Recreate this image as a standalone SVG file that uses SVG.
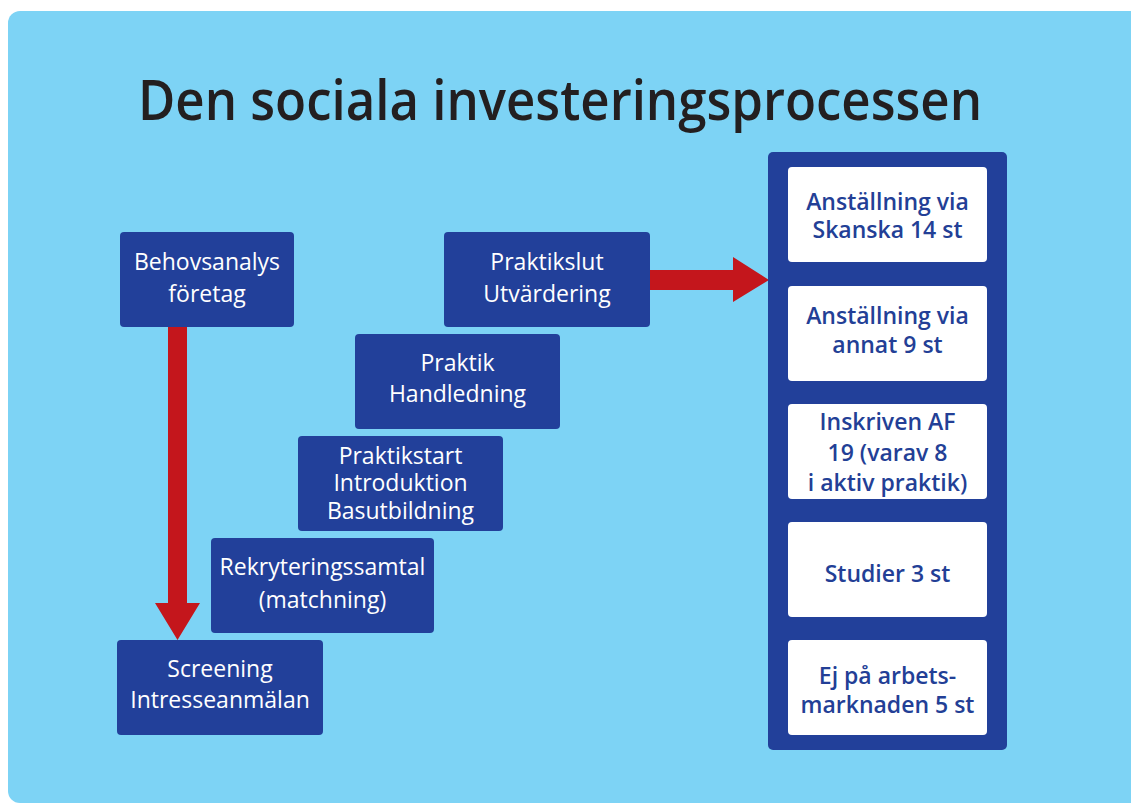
<svg xmlns="http://www.w3.org/2000/svg" width="1131" height="805" viewBox="0 0 1131 805">
<style>
.step{fill:#22409a}
.st{font-family:"Open Sans","Liberation Sans",sans-serif;font-size:23px;fill:#ffffff;text-anchor:middle}
.res{fill:#ffffff}
.rt{font-family:"Open Sans","Liberation Sans",sans-serif;font-size:23px;font-weight:600;fill:#233f96;text-anchor:middle}
.title{font-family:"Open Sans","Liberation Sans",sans-serif;font-size:56px;font-weight:600;fill:#231f20}
.arrow{fill:#c4161c}
</style>
<rect width="1131" height="805" fill="#ffffff"/>
<rect x="8" y="11" width="1140" height="792" rx="12" fill="#7dd3f5"/>
<text class="title" x="138" y="120" textLength="844" lengthAdjust="spacingAndGlyphs">Den sociala investeringsprocessen</text>

<g id="connectors">
<polygon class="arrow" points="168,327 187,327 187,603 200,603 177.5,640 155,603 168,603"/>
<polygon class="arrow" points="650,270 733,270 733,257 769,280 733,302 733,290 650,290"/>
</g>

<g id="behovsanalys">
<rect class="step" x="120" y="232" width="174" height="95" rx="4"/>
<text class="st" x="207" y="270">Behovsanalys</text>
<text class="st" x="207" y="302">företag</text>
</g>
<g id="praktikslut">
<rect class="step" x="444" y="232" width="206" height="95" rx="4"/>
<text class="st" x="547" y="270">Praktikslut</text>
<text class="st" x="547" y="302">Utvärdering</text>
</g>
<g id="praktik">
<rect class="step" x="355" y="334" width="205" height="95" rx="4"/>
<text class="st" x="457.5" y="371">Praktik</text>
<text class="st" x="457.5" y="402">Handledning</text>
</g>
<g id="praktikstart">
<rect class="step" x="298" y="436" width="205" height="95" rx="4"/>
<text class="st" x="400.5" y="464">Praktikstart</text>
<text class="st" x="400.5" y="491">Introduktion</text>
<text class="st" x="400.5" y="519">Basutbildning</text>
</g>
<g id="rekrytering">
<rect class="step" x="211" y="538" width="223" height="95" rx="4"/>
<text class="st" x="322.5" y="575">Rekryteringssamtal</text>
<text class="st" x="322.5" y="608">(matchning)</text>
</g>
<g id="screening">
<rect class="step" x="117" y="640" width="206" height="95" rx="4"/>
<text class="st" x="220" y="677">Screening</text>
<text class="st" x="220" y="708">Intresseanmälan</text>
</g>

<g id="results">
<rect class="step" x="768" y="152" width="239" height="598" rx="5"/>
</g>
<g id="skanska">
<rect class="res" x="788" y="167" width="199" height="95" rx="4"/>
<text class="rt" x="887.5" y="210">Anställning via</text>
<text class="rt" x="887.5" y="238">Skanska 14 st</text>
</g>
<g id="annat">
<rect class="res" x="788" y="286" width="199" height="95" rx="4"/>
<text class="rt" x="887.5" y="324">Anställning via</text>
<text class="rt" x="887.5" y="353">annat 9 st</text>
</g>
<g id="af">
<rect class="res" x="788" y="404" width="199" height="95" rx="4"/>
<text class="rt" x="887.5" y="430">Inskriven AF</text>
<text class="rt" x="887.5" y="461">19 (varav 8</text>
<text class="rt" x="887.5" y="491">i aktiv praktik)</text>
</g>
<g id="studier">
<rect class="res" x="788" y="522" width="199" height="95" rx="4"/>
<text class="rt" x="887.5" y="582">Studier 3 st</text>
</g>
<g id="ej">
<rect class="res" x="788" y="640" width="199" height="95" rx="4"/>
<text class="rt" x="887.5" y="684">Ej på arbets-</text>
<text class="rt" x="887.5" y="713">marknaden 5 st</text>
</g>
</svg>
